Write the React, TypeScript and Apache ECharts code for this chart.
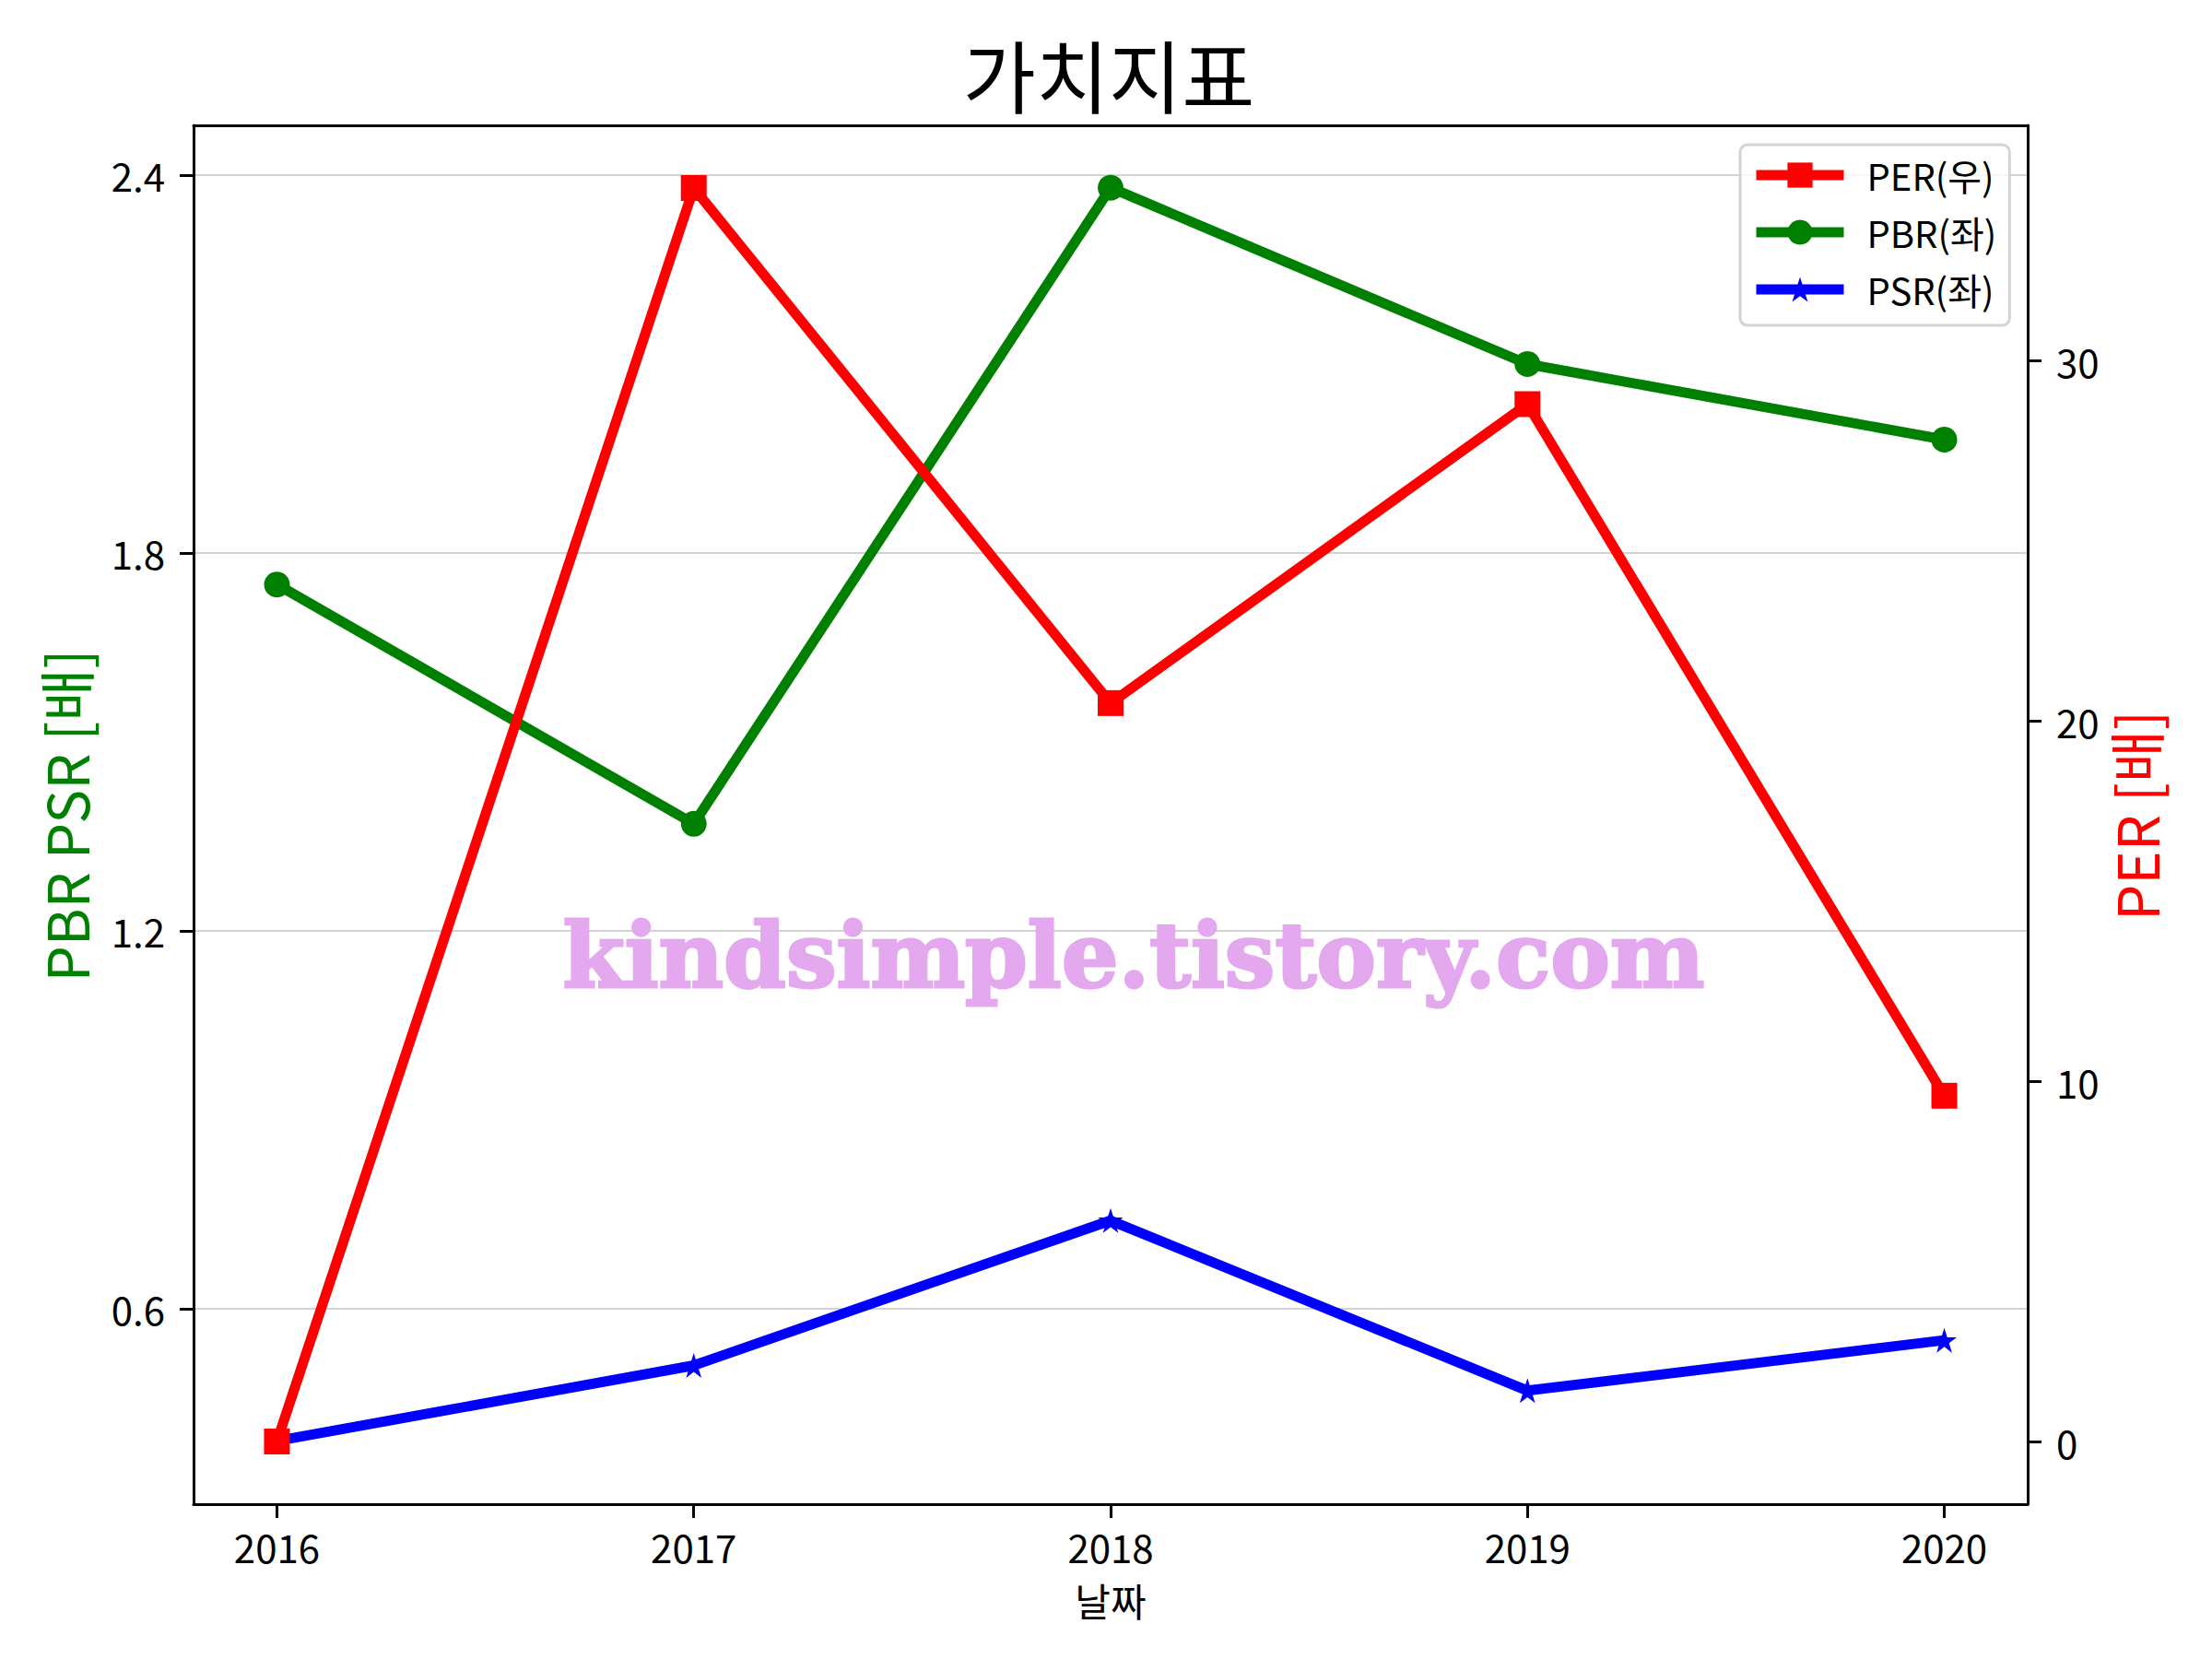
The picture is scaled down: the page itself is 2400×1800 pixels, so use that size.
import React, { useEffect, useRef } from 'react';
import * as echarts from 'echarts';

const years = [2016, 2017, 2018, 2019, 2020];
const perValues = [0, 34.8, 20.5, 28.8, 9.6];
const pbrValues = [1.75, 1.37, 2.38, 2.1, 1.98];
const psrValues = [0.39, 0.51, 0.74, 0.47, 0.55];
const leftTicks = [0.6, 1.2, 1.8, 2.4];
const rightTicks = [0, 10, 20, 30];
const legendNames = ['PER(우)', 'PBR(좌)', 'PSR(좌)'];
const titleText = '가치지표';
const xLabelText = '날짜';
const leftAxisTitle = 'PBR PSR [배]';
const rightAxisTitle = 'PER [배]';
const watermarkText = 'kindsimple.tistory.com';

const FONT = '"Noto Sans CJK KR", "Noto Sans", sans-serif';
const STAR = 'path://M100,0 L122.45,69.1 L195.1,69.1 L136.3,111.8 L158.8,180.9 L100,138.2 L41.2,180.9 L63.7,111.8 L4.9,69.1 L77.55,69.1 Z';

export default function App() {
  const ref = useRef<HTMLDivElement>(null);
  useEffect(() => {
    if (!ref.current) return;
    const chart = echarts.init(ref.current, undefined, { renderer: 'svg' });
    const pair = (vals: number[]) => years.map((y, i) => [y, vals[i]]);
    const axisLine = { show: true, onZero: false, lineStyle: { color: '#000', width: 3 } };
    chart.setOption({
      animation: false,
      backgroundColor: '#fff',
      grid: { left: 210, top: 136, width: 1990, height: 1496, containLabel: false },
      xAxis: [
        {
          type: 'value', position: 'bottom', min: 2015.8, max: 2020.2,
          axisLine,
          axisTick: { show: true, customValues: years, length: 15, lineStyle: { color: '#000', width: 3 } },
          axisLabel: { show: true, customValues: years, margin: 24, fontSize: 42, fontFamily: FONT, color: '#000', formatter: (v: number) => String(v) },
          splitLine: { show: false },
        },
        {
          type: 'value', position: 'top', min: 2015.8, max: 2020.2,
          axisLine, axisTick: { show: false }, axisLabel: { show: false }, splitLine: { show: false },
        },
      ],
      yAxis: [
        {
          type: 'value', position: 'left', min: 0.2897, max: 2.479,
          axisLine,
          axisTick: { show: true, customValues: leftTicks, length: 15, lineStyle: { color: '#000', width: 3 } },
          axisLabel: { show: true, customValues: leftTicks, margin: 31, fontSize: 42, fontFamily: FONT, color: '#000', formatter: (v: number) => v.toFixed(1) },
          splitLine: { show: true, lineStyle: { color: '#d3d3d3', width: 2 } },
        },
        {
          type: 'value', position: 'right', min: -1.74, max: 36.54,
          axisLine,
          axisTick: { show: true, customValues: rightTicks, length: 15, lineStyle: { color: '#000', width: 3 } },
          axisLabel: { show: true, customValues: rightTicks, margin: 31, fontSize: 42, fontFamily: FONT, color: '#000', formatter: (v: number) => String(v) },
          splitLine: { show: false },
        },
      ],
      legend: {
        orient: 'vertical', left: 1888, top: 157,
        data: legendNames,
        itemWidth: 95, itemHeight: 34, itemGap: 20,
        padding: [12, 14, 18, 12],
        borderColor: '#d4d4d4', borderWidth: 3, borderRadius: 8,
        backgroundColor: 'rgba(255,255,255,0.8)',
        lineStyle: { width: 11 },
        textStyle: { fontSize: 40, fontFamily: FONT, color: '#000', lineHeight: 42, padding: [0, 0, 0, 20] },
      },
      series: [
        {
          name: 'PBR(좌)', type: 'line', xAxisIndex: 0, yAxisIndex: 0, data: pair(pbrValues),
          symbol: 'circle', symbolSize: 28, z: 2,
          lineStyle: { color: '#008000', width: 11 }, itemStyle: { color: '#008000' },
        },
        {
          name: 'PSR(좌)', type: 'line', xAxisIndex: 0, yAxisIndex: 0, data: pair(psrValues),
          symbol: STAR, symbolSize: 27, z: 2,
          lineStyle: { color: '#0000ff', width: 11 }, itemStyle: { color: '#0000ff' },
        },
        {
          name: 'PER(우)', type: 'line', xAxisIndex: 0, yAxisIndex: 1, data: pair(perValues),
          symbol: 'rect', symbolSize: 28, z: 3,
          lineStyle: { color: '#ff0000', width: 11 }, itemStyle: { color: '#ff0000' },
        },
      ],
      graphic: [
        { type: 'text', x: 1203, y: 79, style: { text: titleText, fontSize: 86, fontFamily: FONT, fill: '#000', textAlign: 'center', textVerticalAlign: 'middle' } },
        { type: 'text', x: 1205, y: 1735, style: { text: xLabelText, fontSize: 42, fontFamily: FONT, fill: '#000', textAlign: 'center', textVerticalAlign: 'middle' } },
        { type: 'text', x: 70, y: 885, rotation: Math.PI / 2, style: { text: leftAxisTitle, fontSize: 62, fontFamily: FONT, fill: '#008000', textAlign: 'center', textVerticalAlign: 'middle' } },
        { type: 'text', x: 2316, y: 885, rotation: Math.PI / 2, style: { text: rightAxisTitle, fontSize: 62, fontFamily: FONT, fill: '#ff0000', textAlign: 'center', textVerticalAlign: 'middle' } },
        { type: 'text', x: 1230, y: 1037, z: 10, style: { text: watermarkText, fontSize: 97, fontFamily: '"DejaVu Serif", serif', fontWeight: 'bold', fill: '#e3a8ee', stroke: '#e3a8ee', lineWidth: 3, textAlign: 'center', textVerticalAlign: 'middle' } },
      ],
    });
    return () => chart.dispose();
  }, []);
  return <div ref={ref} style={{ position: 'fixed', left: 0, top: 0, width: 2400, height: 1800 }} />;
}
